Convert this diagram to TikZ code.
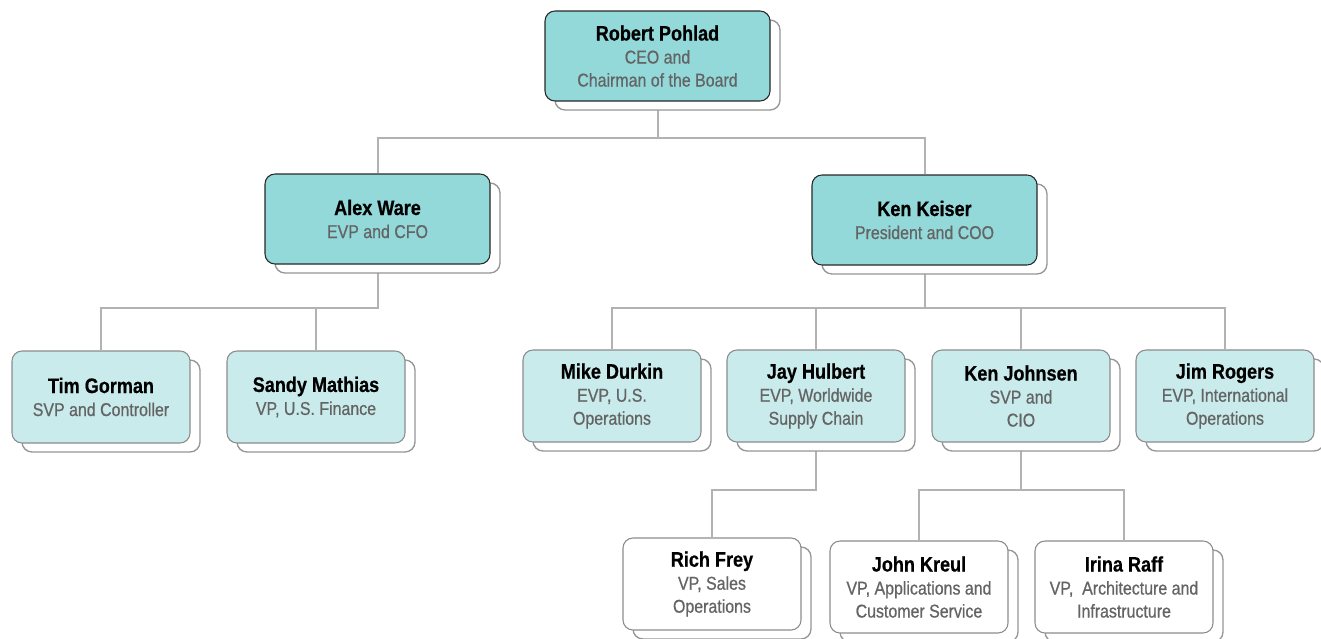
\documentclass[tikz,border=0pt]{standalone}
\usepackage{fontspec}
\setmainfont{Liberation Sans}[FakeStretch=0.88]
\newfontfamily\titlefont{Liberation Sans}[FakeStretch=0.86, FakeBold=0.7]
\newfontfamily\namefont{Liberation Sans Bold}[FakeStretch=0.86, FakeBold=0.6]
\usetikzlibrary{shadows,backgrounds}
\definecolor{tealfill}{RGB}{147,217,218}
\definecolor{lightfill}{RGB}{201,235,236}
\definecolor{darkborder}{RGB}{40,40,40}
\definecolor{lightborder}{RGB}{140,140,140}
\definecolor{shadowgray}{RGB}{150,150,150}
\definecolor{linegray}{RGB}{178,178,178}
\definecolor{titlegray}{RGB}{100,100,100}
\newcommand{\pname}[1]{{\fontsize{15.75pt}{17.25pt}\namefont\color{black}#1}}
\tikzset{
  box/.style={rounded corners=7.5pt, align=center, inner sep=0pt, line width=0.8pt,
    text=titlegray, font=\fontsize{13.9pt}{17.25pt}\titlefont,
    copy shadow={shadow xshift=7.5pt, shadow yshift=-6.75pt, fill=white, draw=shadowgray, line width=1pt}},
  topbox/.style={box, fill=tealfill, draw=darkborder, minimum width=168.75pt, minimum height=67.5pt},
  midbox/.style={box, fill=lightfill, draw=lightborder, minimum width=133.5pt, minimum height=69pt},
  lowbox/.style={box, fill=white, draw=lightborder, minimum width=133.5pt, minimum height=69pt},
  conn/.style={draw=linegray, line width=1.5pt}
}
\begin{document}
\begin{tikzpicture}[x=0.75pt,y=-0.75pt]
\useasboundingbox (0,0) rectangle (1321,639);
\node[topbox] (robert) at (657.5,56) {\pname{Robert Pohlad}\\CEO and\\Chairman of the Board};
\node[topbox] (alex) at (377.5,219) {\pname{Alex Ware}\\EVP and CFO};
\node[topbox] (keiser) at (924.5,220) {\pname{Ken Keiser}\\President and COO};
\node[midbox] (tim) at (101,397) {\pname{Tim Gorman}\\SVP and Controller};
\node[midbox] (sandy) at (316,397) {\pname{Sandy Mathias}\\VP, U.S. Finance};
\node[midbox] (mike) at (612,396) {\pname{Mike Durkin}\\EVP, U.S.\\Operations};
\node[midbox] (jay) at (816,396) {\pname{Jay Hulbert}\\EVP, Worldwide\\Supply Chain};
\node[midbox] (johnsen) at (1021,396) {\pname{Ken Johnsen}\\SVP and\\CIO};
\node[midbox] (jim) at (1225,396) {\pname{Jim Rogers}\\EVP, International\\Operations};
\node[lowbox] (rich) at (712,584) {\pname{Rich Frey}\\VP, Sales\\Operations};
\node[lowbox] (kreul) at (919,587) {\pname{John Kreul}\\VP, Applications and\\Customer Service};
\node[lowbox] (raff) at (1124,587) {\pname{Irina Raff}\\VP,\ \ Architecture and\\Infrastructure};
\begin{pgfonlayer}{background}
\path[conn] (robert.south) |- (657,138) -| (alex.north);
\path[conn] (657,138) -| (keiser.north);
\coordinate (a1) at (377.5,308);
\path[conn] (alex.south) -- (a1) -| (tim.north);
\path[conn] (a1) -| (sandy.north);
\coordinate (k1) at (924.5,308);
\path[conn] (keiser.south) -- (k1) -| (mike.north);
\path[conn] (k1) -| (jay.north);
\path[conn] (k1) -| (johnsen.north);
\path[conn] (k1) -| (jim.north);
\coordinate (j1) at (816,490);
\path[conn] (jay.south) -- (j1) -| (rich.north);
\coordinate (c1) at (1021,490);
\path[conn] (johnsen.south) -- (c1) -| (kreul.north);
\path[conn] (c1) -| (raff.north);
\end{pgfonlayer}
\end{tikzpicture}
\end{document}
